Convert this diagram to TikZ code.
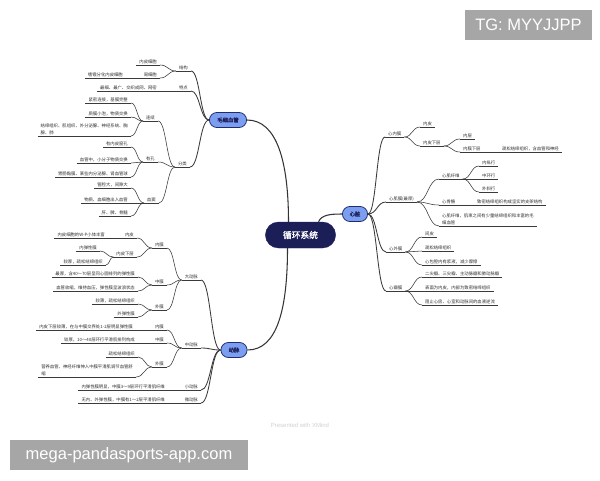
\documentclass[tikz,border=0pt]{standalone}
\usepackage{fontspec}
\setmainfont{Noto Sans CJK SC}
\newfontfamily\boldcjk[FakeBold=1.6]{Noto Sans CJK SC}
\newfontfamily\wmfont{Liberation Sans}
\usetikzlibrary{calc,shapes.misc}
\definecolor{navy}{RGB}{28,30,88}
\definecolor{topicblue}{RGB}{124,158,240}
\definecolor{topicedge}{RGB}{32,44,108}
\definecolor{linegray}{RGB}{58,58,58}
\definecolor{textgray}{RGB}{48,48,48}
\definecolor{markgray}{RGB}{166,166,166}

\begin{document}
\begin{tikzpicture}[x=0.5mm, y=-0.5mm,
  root/.style={rounded rectangle, draw=navy, fill=navy, text=white,
    minimum width=3.75cm, minimum height=1.3cm,
    font=\boldcjk\fontsize{12.4pt}{14pt}\selectfont},
  main/.style={rounded rectangle, draw=topicedge, line width=1.1pt,
    fill=topicblue, text=navy, inner xsep=2pt, minimum height=0.75cm,
    font=\boldcjk\fontsize{7.6pt}{9pt}\selectfont},
  uline/.style={draw=linegray, line width=0.8pt},
  lbl/.style={font=\fontsize{6.2pt}{9.5pt}\selectfont, text=textgray,
    inner xsep=4.3pt, inner ysep=1.3pt,
    append after command={(\tikzlastnode.south west) edge[uline] (\tikzlastnode.south east)}},
  topl/.style={lbl, anchor=south east},
  topr/.style={lbl, anchor=south west},
  cn/.style={draw=linegray, line width=0.8pt,
    to path={let \p1=(\tikztostart), \p2=(\tikztotarget) in
      .. controls ({(\x1+\x2)/2},\y1) and ({(\x1+\x2)/2},\y2) .. (\tikztotarget)}},
  cnb/.style={cn, line width=1.2pt},
  trunk/.style={draw=black!80, line width=1.5pt},
  wmark/.style={fill=markgray, text=white, inner sep=0pt,
    minimum height=1.5cm, font=\wmfont\fontsize{23.5pt}{26pt}\selectfont}
]
  \fill[white] (0,0) rectangle (600,480);
  \useasboundingbox (0,0) rectangle (600,480);

  % centre and main topics
  \node[root] (ctr) at (300.5,235) {循环系统};
  \node[main, minimum width=2cm]    (mx) at (228,120) {毛细血管};
  \node[main, minimum width=1.4cm]  (hx) at (355,214) {心脏};
  \node[main, minimum width=1.45cm] (dm) at (234,350) {动脉};

  \draw[trunk] ($(ctr.north)+(-12,0)$) .. controls +(0,-60) and +(30,0) .. (mx.east);
  \draw[trunk] ($(ctr.north)+(18,0)$) .. controls +(3,-7) and +(-12,0) .. (hx.west);
  \draw[trunk] ($(ctr.south)+(-13,0)$) .. controls +(0,60) and +(30,0) .. (dm.east);

  % capillaries
  \node[topl] (jg)   at (191,71)  {结构};
  \node[topl] (nbxb) at (160,65)  {内皮细胞};
  \node[topl] (zxb)  at (160,78)  {周细胞};
  \node[topl] (sy)   at (126,78)  {嗜锇分化内皮细胞};
  \node[topl] (td)   at (191,91)  {特点};
  \node[topl] (tdc)  at (160,91)  {最细、最广、交织成网、网密};
  \node[topl] (fl)   at (190,167) {分类};
  \node[topl] (lx)   at (158,121) {连续};
  \node[topl] (lx1)  at (131,103) {紧密连接，基膜完整};
  \node[topl] (lx2)  at (131,117) {质膜小泡，物质交换};
  \node[topl, align=left] (lx3) at (131,136) {结缔组织、肌组织、外分泌腺、神经系统、胸\\腺、肺};
  \node[topl] (yk)   at (158,162) {有孔};
  \node[topl] (yk1)  at (131,147) {有内皮窗孔};
  \node[topl] (yk2)  at (131,163) {血管中，小分子物质交换};
  \node[topl] (yk3)  at (131,177) {胃肠黏膜、某些内分泌腺、肾血管球};
  \node[topl] (xd)   at (159,203) {血窦};
  \node[topl] (xd1)  at (131,188) {管腔大，间隙大};
  \node[topl] (xd2)  at (131,203) {物质、血细胞出入血管};
  \node[topl] (xd3)  at (131,216) {肝、脾、骨髓};

  \draw[cnb] (mx.west) to (jg.south east);
  \draw[cnb] (mx.west) to (td.south east);
  \draw[cnb] (mx.west) to (fl.south east);
  \draw[cn] (jg.south west) to (nbxb.south east);
  \draw[cn] (jg.south west) to (zxb.south east);
  \draw[cn] (zxb.south west) to (sy.south east);
  \draw[cn] (td.south west) to (tdc.south east);
  \draw[cn] (fl.south west) to (lx.south east);
  \draw[cn] (fl.south west) to (yk.south east);
  \draw[cn] (fl.south west) to (xd.south east);
  \draw[cn] (lx.south west) to (lx1.south east);
  \draw[cn] (lx.south west) to (lx2.south east);
  \draw[cn] (lx.south west) to (lx3.south east);
  \draw[cn] (yk.south west) to (yk1.south east);
  \draw[cn] (yk.south west) to (yk2.south east);
  \draw[cn] (yk.south west) to (yk3.south east);
  \draw[cn] (xd.south west) to (xd1.south east);
  \draw[cn] (xd.south west) to (xd2.south east);
  \draw[cn] (xd.south west) to (xd3.south east);

  % arteries
  \node[topl] (ddm)  at (201,280) {大动脉};
  \node[topl] (nm1)  at (167,248) {内膜};
  \node[topl] (np1)  at (137,238) {内皮};
  \node[topl] (np1c) at (108,238) {内皮细胞的W-P小体丰富};
  \node[topl] (npx)  at (137,257) {内皮下层};
  \node[topl] (tx1)  at (100,251) {内弹性膜};
  \node[topl] (tx2)  at (106,265) {较厚，疏松结缔组织};
  \node[topl] (zm1)  at (167,285) {中膜};
  \node[topl] (zm1a) at (138,277) {最厚，含40～70层呈同心圆排列的弹性膜};
  \node[topl] (zm1b) at (138,291) {血管收缩，维持血压，弹性膜呈波浪状态};
  \node[topl] (wm1)  at (167,310) {外膜};
  \node[topl] (wm1a) at (138,304) {较薄，疏松结缔组织};
  \node[topl] (wm1b) at (138,317) {外弹性膜};
  \node[topl] (zdm)  at (201,348) {中动脉};
  \node[topl] (nm2)  at (167,330) {内膜};
  \node[topl] (nm2c) at (136,330) {内皮下层较薄，在与中膜交界处1-2层明显弹性膜};
  \node[topl] (zm2)  at (167,343) {中膜};
  \node[topl] (zm2c) at (138,343) {较厚，10～40层环行平滑肌排列构成};
  \node[topl] (wm2)  at (167,367) {外膜};
  \node[topl] (wm2a) at (138,357) {疏松结缔组织};
  \node[topl, align=left] (wm2b) at (136,377) {营养血管、神经纤维伸入中膜平滑肌调节血管舒\\缩};
  \node[topl] (xdm)  at (201,390) {小动脉};
  \node[topl] (xdmc) at (168,390) {内弹性膜明显，中膜3～9层环行平滑肌纤维};
  \node[topl] (wdm)  at (201,403) {微动脉};
  \node[topl] (wdmc) at (168,403) {无内、外弹性膜，中膜有1～2层平滑肌纤维};

  \draw[cnb] (dm.west) to (ddm.south east);
  \draw[cnb] (dm.west) to (zdm.south east);
  \draw[cnb] (dm.west) to (xdm.south east);
  \draw[cnb] (dm.west) to (wdm.south east);
  \draw[cn] (ddm.south west) to (nm1.south east);
  \draw[cn] (ddm.south west) to (zm1.south east);
  \draw[cn] (ddm.south west) to (wm1.south east);
  \draw[cn] (nm1.south west) to (np1.south east);
  \draw[cn] (nm1.south west) to (npx.south east);
  \draw[cn] (np1.south west) to (np1c.south east);
  \draw[cn] (npx.south west) to (tx1.south east);
  \draw[cn] (npx.south west) to (tx2.south east);
  \draw[cn] (zm1.south west) to (zm1a.south east);
  \draw[cn] (zm1.south west) to (zm1b.south east);
  \draw[cn] (wm1.south west) to (wm1a.south east);
  \draw[cn] (wm1.south west) to (wm1b.south east);
  \draw[cn] (zdm.south west) to (nm2.south east);
  \draw[cn] (zdm.south west) to (zm2.south east);
  \draw[cn] (zdm.south west) to (wm2.south east);
  \draw[cn] (nm2.south west) to (nm2c.south east);
  \draw[cn] (zm2.south west) to (zm2c.south east);
  \draw[cn] (wm2.south west) to (wm2a.south east);
  \draw[cn] (wm2.south west) to (wm2b.south east);
  \draw[cn] (xdm.south west) to (xdmc.south east);
  \draw[cn] (wdm.south west) to (wdmc.south east);

  % heart
  \node[topr] (xnm)   at (385,137) {心内膜};
  \node[topr] (xnm1)  at (420,127) {内皮};
  \node[topr] (xnm2)  at (420,146) {内皮下层};
  \node[topr] (nc)    at (460,139) {内层};
  \node[topr] (nmxc)  at (460,152) {内膜下层};
  \node[topr] (nmxcc) at (499,152) {疏松结缔组织，含血管和神经};
  \node[topr] (xjm)   at (386,202) {心肌膜(最厚)};
  \node[topr] (xjxw)  at (439,179) {心肌纤维};
  \node[topr] (nzx)   at (479,166) {内纵行};
  \node[topr] (zhx)   at (479,179) {中环行};
  \node[topr] (wxx)   at (479,192) {外斜行};
  \node[topr] (xgg)   at (439,205) {心骨骼};
  \node[topr] (xggc)  at (474,205) {致密结缔组织构成坚实的支架结构};
  \node[topr, align=left] (xjxw2) at (439,226) {心肌纤维，肌束之间有少量结缔组织和丰富的毛\\细血管};
  \node[topr] (xwm)   at (386,252) {心外膜};
  \node[topr] (jp)    at (422,237) {间皮};
  \node[topr] (ss)    at (422,251) {疏松结缔组织};
  \node[topr] (xbq)   at (422,265) {心包腔内有浆液，减少摩擦};
  \node[topr] (xbm)   at (386,291) {心瓣膜};
  \node[topr] (bm1)   at (422,277) {二尖瓣、三尖瓣、主动脉瓣和肺动脉瓣};
  \node[topr] (bm2)   at (422,291) {表面为内皮，内部为致密结缔组织};
  \node[topr] (bm3)   at (422,305) {阻止心房、心室和动脉间的血液逆流};

  \draw[cnb] (hx.east) to (xnm.south west);
  \draw[cnb] (hx.east) to (xjm.south west);
  \draw[cnb] (hx.east) to (xwm.south west);
  \draw[cnb] (hx.east) to (xbm.south west);
  \draw[cn] (xnm.south east) to (xnm1.south west);
  \draw[cn] (xnm.south east) to (xnm2.south west);
  \draw[cn] (xnm2.south east) to (nc.south west);
  \draw[cn] (xnm2.south east) to (nmxc.south west);
  \draw[cn] (nmxc.south east) to (nmxcc.south west);
  \draw[cn] (xjm.south east) to (xjxw.south west);
  \draw[cn] (xjm.south east) to (xgg.south west);
  \draw[cn] (xjm.south east) to (xjxw2.south west);
  \draw[cn] (xjxw.south east) to (nzx.south west);
  \draw[cn] (xjxw.south east) to (zhx.south west);
  \draw[cn] (xjxw.south east) to (wxx.south west);
  \draw[cn] (xgg.south east) to (xggc.south west);
  \draw[cn] (xwm.south east) to (jp.south west);
  \draw[cn] (xwm.south east) to (ss.south west);
  \draw[cn] (xwm.south east) to (xbq.south west);
  \draw[cn] (xbm.south east) to (bm1.south west);
  \draw[cn] (xbm.south east) to (bm2.south west);
  \draw[cn] (xbm.south east) to (bm3.south west);

  % marks
  \node[font=\wmfont\fontsize{8.5pt}{10pt}\selectfont, text=black!18] (xm) at (300,425) {Presented with XMind};
  \node[wmark, minimum width=6.35cm] (tg) at (528.5,25) {TG: MYYJJPP};
  \node[wmark, minimum width=11.9cm] (site) at (129,455) {mega-pandasports-app.com};
\end{tikzpicture}
\end{document}
